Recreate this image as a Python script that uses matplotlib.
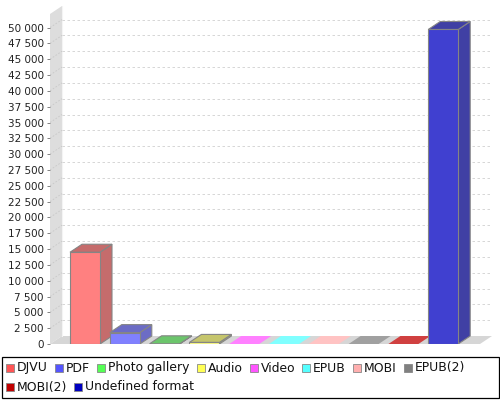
import numpy as np
import matplotlib
matplotlib.use("Agg")
import matplotlib.pyplot as plt
from matplotlib.patches import Polygon, Rectangle
from matplotlib.ticker import FuncFormatter, MultipleLocator

categories = ["DJVU", "PDF", "Photo gallery", "Audio", "Video", "EPUB",
              "MOBI", "EPUB(2)", "MOBI(2)", "Undefined format"]
values = [14500, 1800, 30, 250, 0, 0, 0, 0, 0, 49700]
colors = ["#FF5555", "#5555FF", "#55FF55", "#FFFF55", "#FF55FF", "#55FFFF",
          "#FFAFAF", "#808080", "#C00000", "#0000C0"]
tick_step = 2500
y_max_tick = 50000

W, H = 500, 400
fig = plt.figure(figsize=(W / 100, H / 100), dpi=100)

# axes spans the whole 3d box (front + depth), in pixels from top-left
left_px, right_px, bottom_px, top_px = 50, 492, 344, 6
ax = fig.add_axes([left_px / W, 1 - bottom_px / H,
                   (right_px - left_px) / W, (bottom_px - top_px) / H])

step_px = 39.8
y_scale = 316.4 / 50000  # px per unit
dx = 12 / step_px
dy = 8 / y_scale
x0 = -35 / step_px
x1 = (480 - 85) / step_px
ytop = (bottom_px - top_px) / y_scale
ax.set_xlim(x0, x1 + dx)
ax.set_ylim(0, ytop)
front_top = ytop - dy

alpha = 0.75


def blend(rgb, a=alpha):
    return tuple(a * c + (1 - a) for c in rgb)


def darker(rgb):
    return tuple(int(c * 255 * 0.7) / 255 for c in rgb)


# left wall and floor
ax.add_patch(Polygon([(x0, 0), (x0 + dx, dy), (x0 + dx, front_top + dy), (x0, front_top)],
                     closed=True, facecolor="#DDDDDD", edgecolor="none", zorder=1))
ax.add_patch(Polygon([(x0, 0), (x1, 0), (x1 + dx, dy), (x0 + dx, dy)],
                     closed=True, facecolor="#D6D6D6", edgecolor="none", zorder=1))
ax.plot([x0 + dx, x0 + dx], [dy, front_top + dy], color="#F4F4F4", lw=0.8, zorder=1.5)

# gridlines on the back wall and on the side wall
for v in np.arange(tick_step, y_max_tick + 1, tick_step):
    ax.plot([x0 + dx, x1 + dx], [v + dy, v + dy], color="#D0D0D0", lw=0.6,
            ls=(0, (3, 3)), zorder=2)
    ax.plot([x0, x0 + dx], [v, v + dy], color="#C8C8C8", lw=0.6,
            ls=(0, (2, 2)), zorder=2)

bw = 30 / step_px
edge = "#858585"
for i, (v, c) in enumerate(zip(values, colors)):
    rgb = matplotlib.colors.to_rgb(c)
    front = blend(rgb)
    dark = blend(darker(rgb))
    xl, xr = i - bw / 2, i + bw / 2
    z = 3 + i * 0.1
    if v == 0:
        ax.add_patch(Polygon([(xl, 0), (xr, 0), (xr + dx, dy), (xl + dx, dy)],
                             closed=True, facecolor=front, edgecolor="none", zorder=z))
        continue
    ax.add_patch(Polygon([(xr, 0), (xr + dx, dy), (xr + dx, v + dy), (xr, v)],
                         closed=True, facecolor=dark, edgecolor=edge, lw=0.8, zorder=z))
    ax.add_patch(Polygon([(xl, v), (xr, v), (xr + dx, v + dy), (xl + dx, v + dy)],
                         closed=True, facecolor=dark, edgecolor=edge, lw=0.8, zorder=z))
    ax.add_patch(Rectangle((xl, 0), bw, v, facecolor=front, edgecolor=edge,
                           lw=0.8, zorder=z + 0.05))

for s in ax.spines.values():
    s.set_visible(False)
ax.set_xticks([])
ax.yaxis.set_major_locator(MultipleLocator(tick_step))
ax.yaxis.set_major_formatter(FuncFormatter(lambda v, p: f"{int(v):,}".replace(",", " ")))
ax.set_yticks(np.arange(0, y_max_tick + 1, tick_step))
ax.tick_params(axis="y", length=2.5, width=0.7, color="#808080", pad=2,
               labelsize=7.5, labelcolor="#222222")
ax.set_facecolor("none")

# legend, flow layout in pixels
def fx(px):
    return px / W


def fy(py):
    return 1 - py / H


fig.patches.append(Rectangle((fx(1.5), fy(398)), (497) / W, 41 / H, transform=fig.transFigure,
                             facecolor="white", edgecolor="black", lw=0.9))
renderer = fig.canvas.get_renderer()
row_y = [368, 387]
xpos, row = 6, 0
for name, c in zip(categories, colors):
    t = fig.text(0, 0, name, fontsize=8.9, va="center", ha="left", color="#111111")
    w = t.get_window_extent(renderer).width
    if xpos + 11 + w > 494:
        row += 1
        xpos = 6
    cy = row_y[row]
    fig.patches.append(Rectangle((fx(xpos), fy(cy + 4)), 8 / W, 8 / H,
                                 transform=fig.transFigure, facecolor=c,
                                 edgecolor="#888888", lw=0.6))
    t.set_position((fx(xpos + 11), fy(cy)))
    xpos += 11 + w + 7

fig.savefig("out.png", dpi=100)
